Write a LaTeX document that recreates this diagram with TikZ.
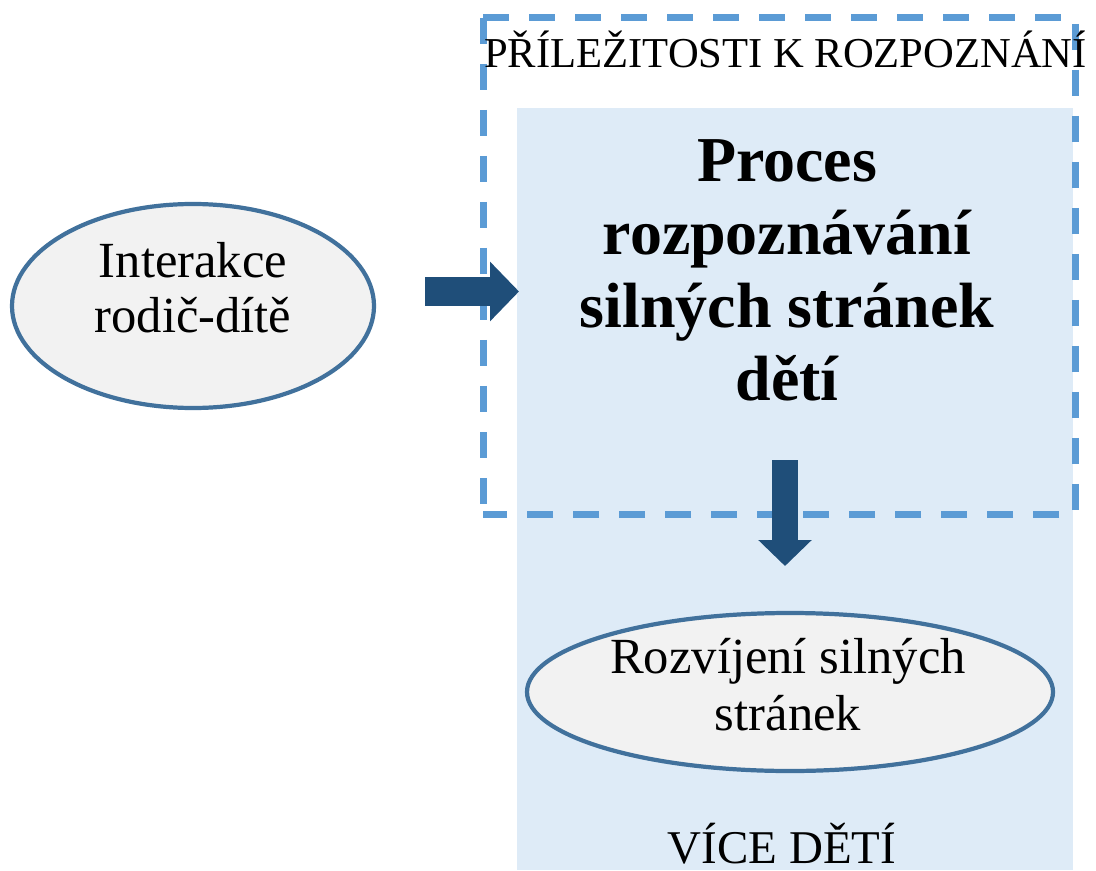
\documentclass[tikz,border=0pt]{standalone}
\usepackage{fontspec}
\setmainfont{Liberation Serif}
\usetikzlibrary{arrows.meta,shapes.geometric}

\definecolor{svetla}{HTML}{DEEBF7}
\definecolor{carka}{HTML}{5B9BD5}
\definecolor{tmava}{HTML}{1F4E79}
\definecolor{okraj}{HTML}{41719C}
\definecolor{sediva}{HTML}{F2F2F2}

\tikzset{
  ovalbox/.style={ellipse, draw=okraj, line width=3pt, fill=sediva, inner sep=0pt},
  popis/.style={anchor=base, align=center, inner sep=0pt},
  carky/.style={draw=carka, line width=0.175cm, dash pattern=on 0.65cm off 0.5cm},
  sipka/.style={draw=tmava, line width=#1, -{Triangle[length=#1, width=2*#1]}}
}

\begin{document}
\begin{tikzpicture}
            \useasboundingbox (0,0) rectangle (27.4,21.75);
            % pozadi
            \fill[svetla] (12.925,0) rectangle (26.825,19.05);
            \draw[carky] (12.075,21.3) -- (26.875,21.3) -- (26.875,8.9) -- (12.075,8.9);
            \draw[carky] (12.075,21.3) -- (12.075,8.9);
            % ovaly
            \node[ovalbox, minimum width=9.05cm, minimum height=5.1cm] (inter) at (4.825,14.1) {};
            \node[ovalbox, minimum width=13.15cm, minimum height=3.95cm] (rozvoj) at (19.75,4.45) {};
            % texty (base = posledni radek)
            \node[popis, font=\fontsize{36}{38.5}\selectfont] (intertxt) at (4.825,13.45) {Interakce\\rodič-dítě};
            \node[popis, font=\fontsize{45.5}{51.7}\selectfont\bfseries] (proces) at (19.675,11.75)
                {Proces\\rozpoznávání\\silných stránek\\dětí};
            \node[popis, font=\fontsize{36}{40.5}\selectfont] (rozvojtxt) at (19.7,3.5) {Rozvíjení silných\\stránek};
            \node[popis, font=\fontsize{30.3}{34}\selectfont] (prilez) at (19.64,20.05) {PŘÍLEŽITOSTI K ROZPOZNÁNÍ};
            \node[popis, font=\fontsize{33.4}{38}\selectfont] (vice) at (19.55,0.175) {VÍCE DĚTÍ};
            % sipky
            \coordinate (s1) at (10.625,14.4625);
            \coordinate (s2) at (12.975,14.4625);
            \coordinate (s3) at (19.625,10.25);
            \coordinate (s4) at (19.625,7.6);
            \draw[sipka=0.725cm] (s1) -- (s2);
            \draw[sipka=0.65cm] (s3) -- (s4);
        \end{tikzpicture}
\end{document}
